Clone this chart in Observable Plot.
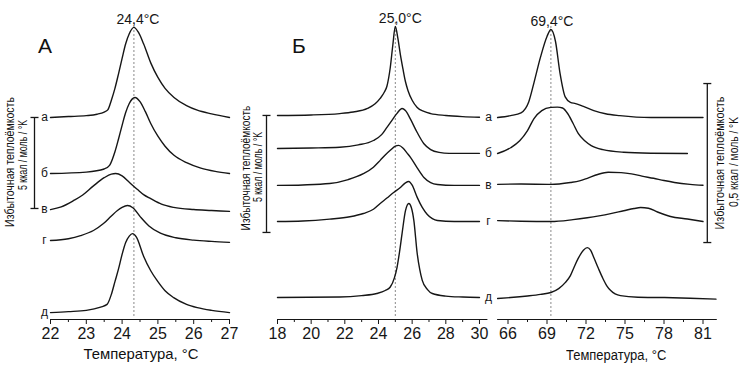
<!DOCTYPE html>
<html><head><meta charset="utf-8">
<script src="https://cdn.jsdelivr.net/npm/d3@7"></script>
<script src="https://cdn.jsdelivr.net/npm/@observablehq/plot@0.6"></script>
<style>
body{margin:0;background:#fff}
#wrap{position:relative;width:742px;height:366px;overflow:hidden;background:#fff;font-family:"Liberation Sans",Arial,sans-serif;color:#111}
#wrap svg{position:absolute;top:0}
.t{position:absolute;white-space:nowrap;line-height:1}
</style></head><body><div id="wrap"></div>
<script>
// ---------- data ----------
const curveLabels = ["а","б","в","г","д"];
const peakT = [24.33, 25.0, 69.3];
const peakLabels = ["24,4°C","25,0°C","69,4°C"];

// Panel A: [T °C, excess Cp kcal/mol/K relative to own baseline]
const A_a = [[22,0],[22.5,0.05],[23,0.1],[23.3,0.18],[23.5,0.3],[23.6,0.42],[23.7,0.95],[23.8,1.6],[23.9,2.4],[24,3.25],[24.1,4.05],[24.2,4.6],[24.33,4.95],[24.45,4.7],[24.6,4.05],[24.8,3.0],[25,2.2],[25.2,1.6],[25.45,1.1],[25.8,0.65],[26.1,0.4],[26.5,0.2],[27,0]];
const A_b = [[22,0],[23,0.08],[23.5,0.25],[23.65,0.45],[23.8,1.2],[23.9,1.9],[24,2.65],[24.1,3.35],[24.2,3.85],[24.36,4.18],[24.5,3.95],[24.65,3.4],[24.8,2.75],[25,2.05],[25.2,1.5],[25.45,1.0],[25.8,0.6],[26.2,0.3],[26.6,0.12],[27,0]];
const A_v = [[22,0],[22.3,0.15],[22.65,0.5],[22.9,0.8],[23.2,1.3],[23.5,1.75],[23.7,1.95],[23.82,1.98],[24,1.85],[24.2,1.5],[24.43,1.1],[24.6,0.82],[24.8,0.6],[25.1,0.3],[25.44,0.12],[26,0],[26.5,-0.05],[27,-0.1]];
const A_g = [[22,0],[22.5,0.1],[22.84,0.27],[23.2,0.55],[23.48,0.93],[23.7,1.35],[23.87,1.65],[24,1.82],[24.15,1.92],[24.3,1.8],[24.51,1.3],[24.75,0.8],[25.07,0.4],[25.5,0.15],[26,0.02],[26.5,-0.05],[27,-0.1]];
const A_d = [[22,0],[22.5,0.05],[23,0.12],[23.4,0.3],[23.58,0.45],[23.7,1.0],[23.8,1.7],[23.9,2.4],[24,3.2],[24.1,3.85],[24.2,4.2],[24.29,4.34],[24.4,4.15],[24.6,3.1],[24.8,2.3],[25,1.7],[25.2,1.2],[25.44,0.82],[25.8,0.45],[26.1,0.27],[26.5,0.12],[27,0]];
const offA = [11.10, 8.02, 6.04, 4.34, 0.38];

// Panel B
const B_a = [[18,0],[20,0.02],[21.7,0.08],[22.5,0.15],[23.35,0.3],[23.8,0.5],[24.1,0.73],[24.35,1.0],[24.5,1.25],[24.7,2.05],[24.85,3.0],[25,3.8],[25.15,3.3],[25.3,2.6],[25.45,2.0],[25.6,1.45],[25.75,1.07],[26,0.65],[26.3,0.34],[26.7,0.17],[27.1,0.08],[28,0],[29,-0.05],[30,-0.08]];
const B_b = [[18,0],[20,0.02],[21.7,0.05],[22.8,0.15],[23.7,0.34],[24.2,0.6],[24.5,0.9],[24.8,1.2],[25.1,1.5],[25.4,1.71],[25.6,1.62],[25.9,1.25],[26.3,0.68],[26.7,0.2],[27.1,-0.05],[27.6,-0.17],[28.2,-0.21],[30,-0.21]];
const B_v = [[18,0],[19.5,0.02],[21.1,0.08],[22.2,0.25],[23.1,0.5],[23.7,0.78],[24.1,1.07],[24.4,1.3],[24.7,1.5],[25,1.68],[25.2,1.71],[25.45,1.6],[25.7,1.38],[25.9,1.2],[26.3,0.75],[26.7,0.34],[27.1,0.12],[27.5,0.04],[28.5,0],[30,0]];
const B_g = [[18,0],[19.5,0.02],[21.1,0.1],[22.3,0.2],[23.1,0.34],[23.7,0.52],[24.1,0.77],[24.5,1.0],[24.9,1.24],[25.3,1.45],[25.6,1.65],[25.8,1.71],[26,1.55],[26.3,1.03],[26.6,0.6],[26.9,0.3],[27.2,0.12],[27.5,0.04],[28.5,0],[30,0]];
const B_d = [[18,0],[21.7,0.02],[23,0.08],[23.9,0.17],[24.4,0.3],[24.7,0.45],[24.95,0.85],[25.1,1.28],[25.25,1.95],[25.4,2.73],[25.6,3.7],[25.8,4.02],[25.95,3.85],[26.1,3.3],[26.3,1.88],[26.45,1.2],[26.6,0.73],[26.9,0.35],[27.2,0.17],[28,0.06],[29,0.02],[30,0]];
const offB = [8.72, 7.31, 5.73, 4.19, 0.94];

// Panel C (high-temperature)
const C_a = [[65.2,0],[66.2,0.006],[67,0.015],[67.6,0.05],[68,0.11],[68.5,0.19],[69,0.255],[69.3,0.277],[69.65,0.24],[70,0.14],[70.4,0.065],[70.8,0.048],[71.2,0.044],[71.8,0.035],[72.6,0.022],[73.5,0.012],[74.6,0.006],[77,0],[81,0]];
const C_b = [[65.2,0],[66.2,0.018],[66.9,0.04],[67.5,0.072],[68,0.11],[68.6,0.135],[69.3,0.145],[69.8,0.146],[70.2,0.143],[70.6,0.125],[71,0.095],[71.4,0.063],[71.9,0.04],[72.4,0.025],[73.3,0.012],[74.9,0.004],[77,0.001],[79.8,0]];
const C_v = [[65.2,0],[67,0.001],[69.3,0],[70.8,0.006],[71.5,0.011],[72.1,0.019],[72.9,0.031],[73.7,0.038],[74.7,0.037],[75.5,0.033],[76.3,0.026],[77.2,0.019],[78,0.012],[78.8,0.006],[80,0],[81,-0.003]];
const C_g = [[65.2,0],[67,-0.002],[69.3,-0.003],[71,0.003],[72.1,0.009],[73,0.015],[73.9,0.022],[74.9,0.031],[75.7,0.038],[76.2,0.041],[76.8,0.039],[77.5,0.027],[78.5,0.013],[79.8,0.005],[81,-0.003]];
const C_d = [[65.2,0],[66.2,0.003],[67.5,0.008],[68.5,0.013],[69.3,0.019],[69.9,0.031],[70.4,0.05],[70.8,0.072],[71.1,0.1],[71.4,0.126],[71.8,0.152],[72.1,0.16],[72.35,0.152],[72.6,0.129],[72.95,0.095],[73.3,0.063],[73.6,0.04],[73.9,0.025],[74.65,0.009],[76,0.004],[78,0.003],[80,0.001],[82,-0.002]];
const offC = [0.635, 0.522, 0.425, 0.311, 0.066];

// ticks
const ticksA = [22,23,24,25,26,27], minorA = [22.5,23.5,24.5,25.5,26.5];
const ticksB = [18,20,22,24,26,28,30], minorB = [19,21,23,25,27,29];
const ticksC = [66,69,72,75,78,81], minorC = [67.5,70.5,73.5,76.5,79.5];

// scale bars (kcal/mol/K)
const barA = [offA[0], offA[0]-5];
const barB = [offB[0], offB[0]-5];
const barC = [0.742, 0.242];

// ---------- drawing ----------
const wrap = document.getElementById("wrap");
const hbar = {draw(ctx, size){ const r = Math.sqrt(size/Math.PI); ctx.moveTo(-r,0); ctx.lineTo(r,0); }};
const INK = "#161616";

function panel(o){
  const curves = o.curves.map((c,i)=>c.map(([T,cp])=>({T, y: cp + o.offsets[i]})));
  const marks = [
    Plot.ruleX([o.peak], {stroke:"#8a8a8a", strokeDasharray:"2,2", strokeWidth:1, insetTop:o.dashTop, insetBottom:3}),
    Plot.ruleY([0], {stroke:INK, strokeWidth:1.2}),
    Plot.axisX({ticks:o.ticks, tickSize:5, tickPadding:3, fontSize:16, tickFormat:d=>String(d), stroke:INK, fill:INK, label:null}),
    Plot.axisX({ticks:o.minor, tickSize:3, text:null, stroke:INK, label:null}),
    ...curves.map(c=>Plot.line(c,{x:"T", y:"y", curve:"monotone-x", stroke:INK, strokeWidth:1.4})),
    Plot.text([o.peakLabel], {x:()=>o.peak, frameAnchor:"top", dy:o.peakDy, dx:o.peakDx, text:d=>d, fontSize:14, fill:INK}),
    Plot.ruleX([o.bar], {x:()=>o.barX, y1:d=>d[0], y2:d=>d[1], dx:o.barDx, stroke:INK, strokeWidth:1.3}),
    Plot.dot(o.bar, {x:()=>o.barX, y:d=>d, dx:o.barDx, symbol:hbar, r:4, stroke:INK, strokeWidth:1.3})
  ];
  if (o.labelX !== undefined) {
    marks.push(Plot.text(curveLabels, {x:()=>o.labelX, y:(d,i)=>o.labelY(i), text:d=>d, dx:o.labelDx, fontSize:12, fill:INK}));
  }
  const svg = Plot.plot({
    width:o.width, height:366, marginLeft:o.mL, marginRight:o.mR, marginTop:0, marginBottom:47,
    x:{domain:o.xDomain, label:null}, y:{domain:[0,o.yMax], axis:null, label:null},
    style:{background:"transparent", overflow:"visible", fontFamily:'"Liberation Sans", Arial, sans-serif', color:INK},
    marks
  });
  svg.style.left = o.left + "px";
  wrap.appendChild(svg);
}

panel({left:0, width:240, mL:50, mR:11, xDomain:[22,27], yMax:319/18.2,
  curves:[A_a,A_b,A_v,A_g,A_d], offsets:offA, peak:peakT[0], peakLabel:peakLabels[0], peakDx:4, peakDy:14, dashTop:22,
  ticks:ticksA, minor:minorA, bar:barA, barX:22, barDx:-16,
  labelX:22, labelY:i=>offA[i], labelDx:-6});

panel({left:240, width:260, mL:37, mR:12.6, xDomain:[18,30.5], yMax:319/23.4,
  curves:[B_a,B_b,B_v,B_g,B_d], offsets:offB, peak:peakT[1], peakLabel:peakLabels[1], peakDx:5, peakDy:13, dashTop:22,
  ticks:ticksB, minor:minorB, bar:barB, barX:18, barDx:-11,
  labelX:30, labelY:i=>offB[i] + [B_a,B_b,B_v,B_g,B_d][i].at(-1)[1], labelDx:9});

panel({left:490, width:252, mL:7.1, mR:25.2, xDomain:[65.2,82.1], yMax:319/318,
  curves:[C_a,C_b,C_v,C_g,C_d], offsets:offC, peak:peakT[2], peakLabel:peakLabels[2], peakDx:1, peakDy:16, dashTop:22,
  ticks:ticksC, minor:minorC, bar:barC, barX:82.1, barDx:-10});

// ---------- html text ----------
function htext(txt, cx, cy, size, targetW, rot){
  const d = document.createElement("div");
  d.className = "t"; d.textContent = txt; d.style.fontSize = size + "px";
  wrap.appendChild(d);
  const w = d.offsetWidth, h = d.offsetHeight;
  const s = targetW ? targetW / w : 1;
  d.style.left = (cx - w/2) + "px"; d.style.top = (cy - h/2) + "px";
  d.style.transform = `rotate(${rot||0}deg) scaleX(${s})`;
  return d;
}
htext("А", 45, 45, 21);
htext("Б", 299, 45, 21);
htext("Температура, °C", 141, 353, 15, 115);
htext("Температура, °C", 616, 355, 14, 100);
htext("Избыточная теплоёмкость", 10, 162, 12, 130, -90);
htext("5 ккал / моль / °K", 22, 155, 12, 70, -90);
htext("Избыточная теплоёмкость", 246, 168, 12, 125, -90);
htext("5 ккал / моль / °K", 257, 167, 12, 70, -90);
htext("Избыточная теплоёмкость", 720, 163, 12, 133, -90);
htext("0,5 ккал / моль / °K", 733, 162, 12, 90, -90);
</script></body></html>
